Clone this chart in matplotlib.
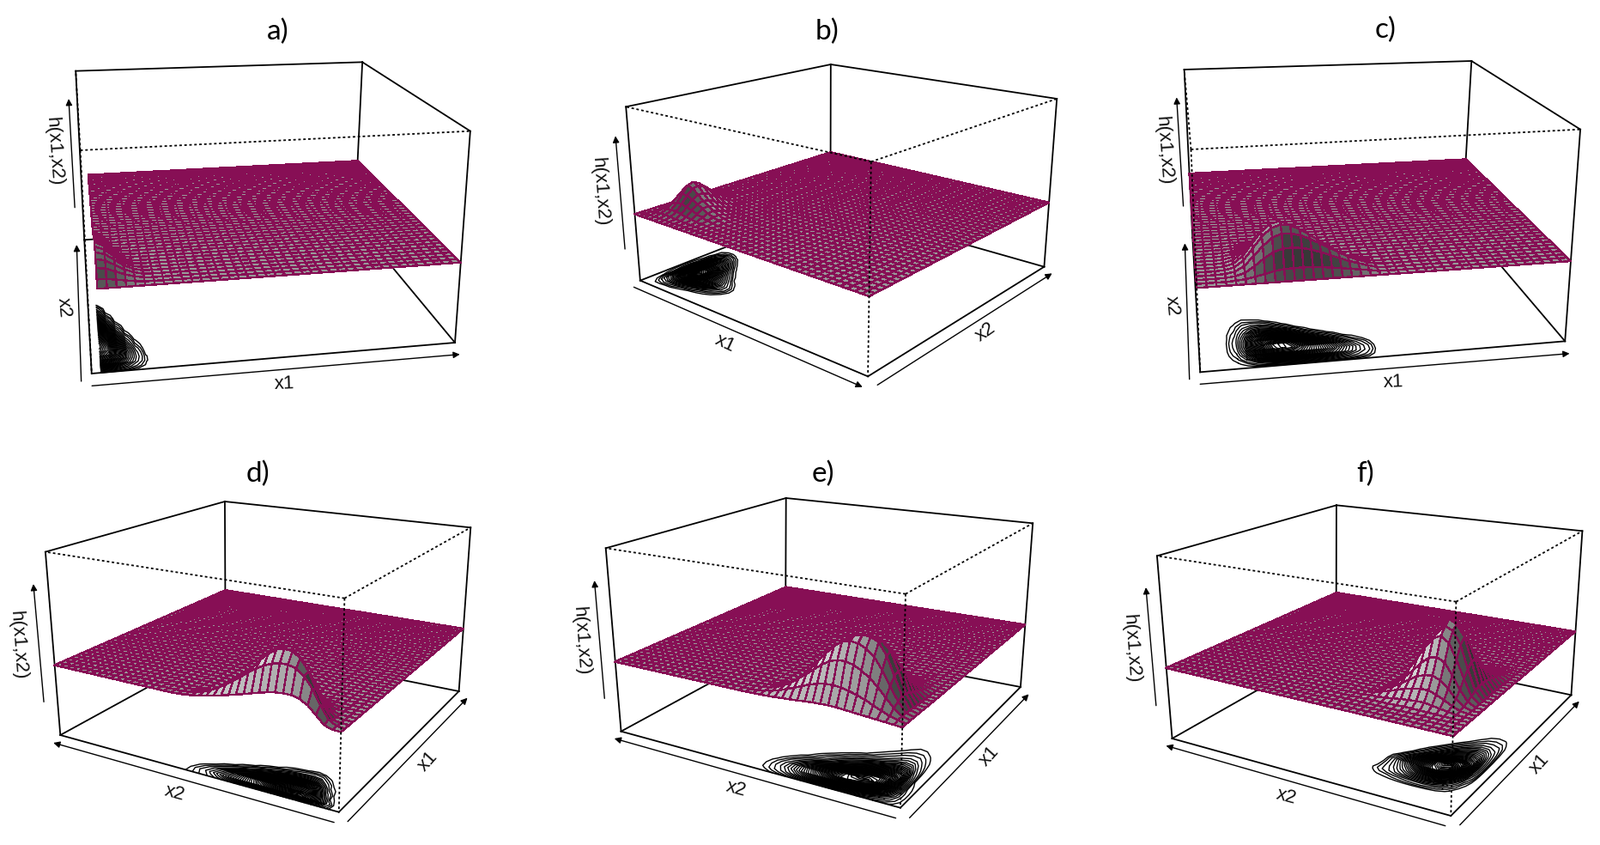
import numpy as np
import matplotlib
matplotlib.use("Agg")
import matplotlib.pyplot as plt
from matplotlib.collections import PolyCollection
from contourpy import contour_generator

# height of the flat part of the surface, as a fraction of the box height
flat_level = 0.395
n_cells = 40

# heights of the bump above the flat level (1/1000 of box height)
# rows are x1 grid nodes starting at the given first row, columns are x2 grid nodes, short rows end in zeros
first_row_a = 0
bump_a = [
    [0, 25, 60, 85, 100, 110, 115, 113, 105, 95, 82, 68, 54, 40, 28, 18, 8, 2],
    [0, 24, 55, 75, 88, 94, 95, 88, 76, 62, 46, 32, 20, 11, 4, 1],
    [0, 18, 38, 52, 60, 60, 54, 44, 33, 22, 13, 6, 2],
    [0, 11, 22, 28, 30, 27, 21, 14, 8, 3, 1],
    [0, 5, 10, 12, 11, 8, 4, 2],
    [0, 1, 2, 2, 1],
]
first_row_b = 1
bump_b = [
    [0, 0, 1, 2, 3, 4, 5, 6, 6, 5, 4, 3, 3, 2, 2, 1],
    [0, 2, 6, 16, 28, 38, 44, 45, 43, 38, 31, 24, 16, 10, 4, 1],
    [0, 2, 10, 26, 48, 78, 105, 110, 100, 84, 65, 47, 31, 18, 6],
    [0, 1, 10, 30, 60, 100, 140, 150, 132, 102, 74, 52, 32, 15, 3],
    [0, 1, 8, 28, 62, 100, 130, 135, 120, 92, 62, 42, 22, 6],
    [0, 0, 5, 22, 52, 84, 105, 100, 84, 62, 40, 22, 6],
    [0, 0, 3, 16, 42, 68, 76, 68, 52, 34, 18, 5],
    [0, 0, 2, 10, 30, 50, 55, 44, 30, 16, 4],
    [0, 0, 1, 6, 20, 33, 36, 27, 15, 4],
    [0, 0, 0, 4, 12, 20, 21, 13, 3],
    [0, 0, 0, 2, 6, 11, 11, 4],
    [0, 0, 0, 1, 2, 4, 3],
]
first_row_c = 3
bump_c = [
    [0, 0, 1, 2, 3, 3, 3, 2, 2, 1, 1],
    [0, 2, 5, 9, 12, 14, 14, 12, 9, 6, 4, 2, 1],
    [0, 6, 18, 32, 42, 47, 45, 38, 29, 20, 12, 6, 2],
    [0, 14, 45, 75, 95, 102, 95, 78, 56, 34, 17, 6, 1],
    [0, 24, 78, 120, 148, 155, 138, 105, 70, 40, 18, 5],
    [0, 34, 105, 155, 185, 190, 160, 115, 70, 34, 12, 2],
    [0, 40, 118, 172, 198, 200, 160, 105, 56, 22, 5],
    [0, 42, 120, 170, 193, 180, 135, 80, 36, 10, 1],
    [0, 42, 115, 158, 172, 150, 100, 50, 18, 3],
    [0, 40, 105, 138, 145, 115, 68, 26, 6],
    [0, 37, 90, 116, 115, 82, 40, 11, 1],
    [0, 32, 73, 92, 86, 54, 21, 4],
    [0, 26, 56, 68, 58, 32, 9, 1],
    [0, 20, 40, 46, 35, 15, 3],
    [0, 14, 26, 28, 18, 6, 1],
    [0, 8, 14, 14, 8, 2],
    [0, 1, 3, 3, 1],
]
first_row_d = 0
bump_d = [
    [0, 1, 14, 52, 90, 112, 122, 122, 118, 110, 100, 88, 76, 65, 54, 44, 34, 25, 17, 10, 5, 2],
    [0, 2, 25, 85, 155, 205, 235, 245, 245, 235, 218, 195, 168, 138, 110, 84, 60, 40, 24, 13, 5, 1],
    [0, 1, 8, 60, 135, 215, 270, 296, 300, 290, 262, 225, 182, 142, 105, 74, 49, 30, 16, 7, 2],
    [0, 0, 4, 30, 95, 170, 222, 245, 245, 228, 195, 155, 118, 85, 58, 37, 21, 10, 3],
    [0, 0, 2, 10, 55, 115, 148, 155, 148, 128, 100, 74, 52, 33, 19, 9, 3],
    [0, 0, 1, 4, 20, 55, 70, 72, 65, 52, 38, 25, 14, 7, 2],
    [0, 0, 0, 1, 6, 20, 26, 25, 20, 14, 8, 4, 1],
    [0, 0, 0, 0, 1, 4, 6, 5, 3, 2, 1],
]
first_row_e = 0
bump_e = [
    [0, 3, 6, 9, 12, 15, 18, 21, 24, 25, 24, 22, 19, 15, 12, 9, 6, 4, 2, 1],
    [1, 9, 20, 36, 54, 72, 86, 98, 106, 110, 108, 100, 88, 72, 56, 40, 26, 15, 7, 3],
    [1, 12, 42, 84, 128, 162, 190, 210, 220, 218, 205, 180, 150, 118, 88, 60, 38, 20, 9, 3],
    [1, 12, 60, 125, 195, 250, 283, 300, 305, 295, 265, 225, 180, 135, 95, 62, 36, 18, 7, 2],
    [1, 10, 72, 160, 250, 308, 326, 330, 318, 290, 245, 195, 148, 105, 70, 42, 22, 10, 3, 1],
    [1, 7, 70, 170, 260, 298, 300, 285, 258, 220, 175, 132, 92, 60, 36, 19, 9, 3, 1],
    [0, 5, 60, 165, 225, 240, 230, 208, 178, 142, 105, 72, 46, 27, 14, 6, 2],
    [0, 4, 48, 135, 170, 175, 160, 140, 115, 88, 62, 41, 25, 13, 6, 2],
    [0, 3, 36, 100, 118, 118, 98, 82, 64, 46, 30, 18, 9, 4, 1],
    [0, 2, 25, 66, 76, 72, 54, 42, 30, 20, 12, 6, 2],
    [0, 1, 17, 42, 48, 42, 30, 20, 12, 6, 2],
    [0, 1, 11, 26, 30, 25, 16, 10, 5, 2],
    [0, 0, 7, 16, 18, 14, 8, 4, 1],
    [0, 0, 4, 9, 10, 7, 3, 1],
    [0, 0, 2, 5, 6, 3, 1],
    [0, 0, 1, 2, 2, 1],
]
first_row_f = 4
bump_f = [
    [0, 0, 0, 1, 2, 3, 4, 5, 5, 4, 3, 2, 2, 2, 1],
    [0, 0, 2, 8, 15, 22, 28, 27, 24, 20, 15, 10, 7, 4, 1],
    [0, 0, 6, 22, 44, 62, 75, 75, 68, 58, 44, 30, 18, 7, 1],
    [0, 0, 12, 42, 85, 120, 135, 130, 115, 90, 64, 40, 20, 5],
    [0, 1, 22, 75, 140, 195, 215, 205, 170, 125, 85, 50, 22, 3],
    [1, 2, 35, 115, 205, 280, 310, 290, 240, 175, 115, 65, 25, 3],
    [1, 3, 48, 150, 265, 330, 345, 305, 235, 165, 100, 50, 15, 1],
    [1, 4, 55, 175, 295, 350, 370, 310, 215, 135, 68, 24, 3],
    [1, 4, 58, 180, 265, 300, 290, 215, 140, 78, 30, 6],
    [1, 4, 55, 150, 195, 195, 165, 120, 75, 35, 10],
    [1, 4, 50, 120, 148, 142, 115, 78, 42, 15, 2],
    [1, 3, 44, 92, 108, 98, 74, 44, 18, 3],
    [1, 3, 36, 68, 75, 62, 42, 20, 5],
    [1, 2, 28, 44, 47, 35, 18, 6],
    [0, 2, 20, 27, 27, 16, 6, 1],
    [0, 1, 12, 15, 14, 7, 1],
    [0, 1, 7, 9, 7, 2],
    [0, 0, 3, 4, 3],
]

panel_titles = ["a)", "b)", "c)", "d)", "e)", "f)"]
axis_x1 = "x1"
axis_x2 = "x2"
axis_h = "h(x1,x2)"

# level of each contour ring as a share of the peak
ring_shares = [0.015, 0.03, 0.05, 0.08, 0.11, 0.14, 0.17, 0.20, 0.23, 0.26, 0.29, 0.32, 0.35, 0.38,
               0.41, 0.44, 0.47, 0.50, 0.53, 0.56, 0.59, 0.62, 0.65, 0.68, 0.71, 0.74, 0.77, 0.80,
               0.83, 0.86, 0.89, 0.92, 0.95, 0.98]

surface_colour = "#870f55"
line_width = 1.3

# layout, measured on stretched crops: offset and x scale of the crop (y scale is always 3), then box corners
# corner order is (x1,x2) = (0,0), (1,0), (1,1), (0,1); "front" is the corner with the dotted edges
layout = {
    "a": dict(offset=(40, 0), sx=2.8, floor=[(187, 1305), (1372, 1197), (1045, 775), (163, 838)],
              roof=[(150, 525), (1422, 458), (1070, 217), (135, 248)], front=0, far=(0.3, 1), x1_start=0.025,
              arrow1=[(188, 1348), (1388, 1238)], arrow2=[(153, 1332), (138, 855)], arrowh=[(132, 725), (112, 345)],
              label1=(815, 1340, 2), label2=(95, 1075, -85), labelh=(65, 530, -86), title=(795, 110)),
    "b": dict(offset=(680, 0), sx=2.703, floor=[(178, 980), (895, 1315), (1450, 932), (777, 720)],
              roof=[(133, 373), (905, 565), (1490, 345), (778, 225)], front=1, far=(-1, 1),
              arrow1=[(158, 1003), (878, 1352)], arrow2=[(925, 1345), (1475, 955)], arrowh=[(130, 870), (100, 475)],
              label1=(445, 1200, -25), label2=(1265, 1160, 35), labelh=(52, 670, -86), title=(765, 110)),
    "c": dict(offset=(1300, 0), sx=2.8, floor=[(275, 1300), (1465, 1192), (1130, 770), (250, 830)],
              roof=[(245, 522), (1515, 452), (1160, 213), (223, 243)], front=0, far=(0.3, 1),
              arrow1=[(275, 1342), (1480, 1235)], arrow2=[(240, 1325), (225, 850)], arrowh=[(220, 720), (198, 340)],
              label1=(905, 1335, 2), label2=(182, 1070, -85), labelh=(157, 525, -86), title=(880, 105)),
    "d": dict(offset=(0, 520), sx=2.703, floor=[(1067, 1277), (1445, 855), (710, 692), (190, 1008)],
              roof=[(1085, 530), (1482, 283), (708, 192), (143, 368)], front=0, far=(1, 1),
              arrow1=[(1095, 1310), (1472, 878)], arrow2=[(1052, 1313), (168, 1035)], arrowh=[(138, 892), (105, 480)],
              label1=(1348, 1100, 48), label2=(550, 1210, -15), labelh=(57, 695, -86), title=(813, 95)),
    "e": dict(offset=(680, 520), sx=2.8, floor=[(1033, 1262), (1425, 840), (658, 683), (122, 995)],
              roof=[(1050, 515), (1465, 268), (660, 180), (72, 355)], front=0, far=(1, 1),
              arrow1=[(1063, 1297), (1452, 865)], arrow2=[(1018, 1298), (100, 1020)], arrowh=[(68, 880), (35, 468)],
              label1=(1322, 1082, 48), label2=(497, 1195, -15), labelh=(-8, 680, -86), title=(780, 95)),
    "f": dict(offset=(1300, 520), sx=2.775, floor=[(1083, 1290), (1472, 868), (712, 695), (182, 1020)],
              roof=[(1100, 542), (1508, 295), (713, 205), (133, 382)], front=0, far=(1, 1),
              arrow1=[(1112, 1322), (1498, 890)], arrow2=[(1065, 1325), (162, 1045)], arrowh=[(130, 905), (97, 492)],
              label1=(1370, 1108, 48), label2=(550, 1222, -15), labelh=(49, 705, -86), title=(805, 95)),
}
bumps = {"a": (first_row_a, bump_a), "b": (first_row_b, bump_b), "c": (first_row_c, bump_c),
         "d": (first_row_d, bump_d), "e": (first_row_e, bump_e), "f": (first_row_f, bump_f)}
unit_square = [(0, 0), (1, 0), (1, 1), (0, 1)]


def fit_projection(floor, roof):
    # projective map from the unit cube to picture pixels, from the 8 box corners
    rows, rhs = [], []
    for z, corners in ((0, floor), (1, roof)):
        for (x, y), (u, v) in zip(unit_square, corners):
            rows.append([x, y, z, 1, 0, 0, 0, 0, -u * x, -u * y, -u * z])
            rows.append([0, 0, 0, 0, x, y, z, 1, -v * x, -v * y, -v * z])
            rhs += [u, v]
    p = np.linalg.lstsq(np.array(rows, float), np.array(rhs, float), rcond=None)[0]
    return np.append(p, 1).reshape(3, 4)


def project(H, x, y, z):
    pts = np.stack([x, y, z, np.ones_like(x)], axis=-1) @ H.T
    return pts[..., :2] / pts[..., 2:]


def draw_panel(ax, key, title):
    cfg = layout[key]
    off = np.array(cfg["offset"], float)
    to_px = lambda pts: off + np.array(pts, float) / (cfg["sx"], 3)
    floor, roof = to_px(cfg["floor"]), to_px(cfg["roof"])
    H = fit_projection(floor, roof)

    # solid part of the box
    f = cfg["front"]
    for i in range(4):
        j = (i + 1) % 4
        ax.plot(*np.array([floor[i], floor[j]]).T, color="black", lw=line_width, zorder=2)
        if i != f and j != f:
            ax.plot(*np.array([roof[i], roof[j]]).T, color="black", lw=line_width, zorder=2)
        if i != f:
            ax.plot(*np.array([floor[i], roof[i]]).T, color="black", lw=line_width, zorder=2)

    first, rows = bumps[key]
    nodes1 = np.linspace(cfg.get("x1_start", 0), 1, n_cells + 1)
    nodes2 = np.linspace(0, 1, n_cells + 1)
    Z = np.zeros((n_cells + 1, n_cells + 1))
    for r, row in enumerate(rows):
        Z[first + r, :len(row)] = row

    # contours on the floor of the box
    gen = contour_generator(x=nodes2, y=nodes1, z=Z)
    for share in ring_shares:
        for line in gen.lines(share * Z.max()):
            xy = project(H, line[:, 1], line[:, 0], np.zeros(len(line)))
            ax.plot(xy[:, 0], xy[:, 1], color="black", lw=1.0, zorder=3)

    # surface, painted from the far corner to the near one
    X1, X2 = np.meshgrid(nodes1, nodes2, indexing="ij")
    H_surf = flat_level + Z / 1000
    px = project(H, X1, X2, H_surf)
    dx1 = (H_surf[1:, 1:] + H_surf[1:, :-1] - H_surf[:-1, 1:] - H_surf[:-1, :-1]) / 2 * n_cells
    dx2 = (H_surf[1:, 1:] + H_surf[:-1, 1:] - H_surf[1:, :-1] - H_surf[:-1, :-1]) / 2 * n_cells
    norm = np.sqrt(dx1 ** 2 + dx2 ** 2 + 1)
    d = (0.3 * dx1 - 0.65 * dx2 + 0.2) / norm
    shade = np.clip((1 + d) / 2, 0, 1)

    polys, greys, order = [], [], []
    far1, far2 = cfg["far"]
    for i in range(n_cells):
        for j in range(n_cells):
            polys.append([px[i, j], px[i + 1, j], px[i + 1, j + 1], px[i, j + 1]])
            greys.append((shade[i, j],) * 3)
            order.append(far1 * i + far2 * j)
    idx = np.argsort(order, kind="stable")[::-1]
    ax.add_collection(PolyCollection([polys[k] for k in idx], facecolors=[greys[k] for k in idx],
                                     edgecolors=surface_colour, linewidths=1.0, antialiaseds=False, zorder=4))

    # dotted front edges go over the surface
    dots = (0, (1.6, 1.6))
    for other in ((f + 1) % 4, (f + 3) % 4):
        ax.plot(*np.array([roof[f], roof[other]]).T, color="black", lw=1.3, ls=dots, zorder=5)
    ax.plot(*np.array([roof[f], floor[f]]).T, color="black", lw=1.3, ls=dots, zorder=5)

    # axis arrows and their names
    for name in ("arrow1", "arrow2", "arrowh"):
        a, b = to_px(cfg[name])
        ax.annotate("", xy=b, xytext=a, zorder=6,
                    arrowprops=dict(arrowstyle="-|>", color="black", lw=1.0, mutation_scale=11,
                                    shrinkA=0, shrinkB=0))
    for name, text in (("label1", axis_x1), ("label2", axis_x2), ("labelh", axis_h)):
        u, v, rot = cfg[name]
        pos = to_px((u, v))
        ax.text(pos[0], pos[1], text, rotation=rot, rotation_mode="anchor", ha="center", va="center",
                family="Liberation Sans", fontsize=16, color="#101010", zorder=6)
    pos = to_px(cfg["title"])
    ax.text(pos[0], pos[1], title, ha="center", va="center", family="Lato", fontsize=24, color="black", zorder=6)


fig = plt.figure(figsize=(18.65, 9.84), dpi=100)
ax = fig.add_axes([0, 0, 1, 1])
ax.set_xlim(0, 1865)
ax.set_ylim(984, 0)
ax.axis("off")

for key, title in zip("abcdef", panel_titles):
    draw_panel(ax, key, title)

fig.savefig("out.png", dpi=100)
